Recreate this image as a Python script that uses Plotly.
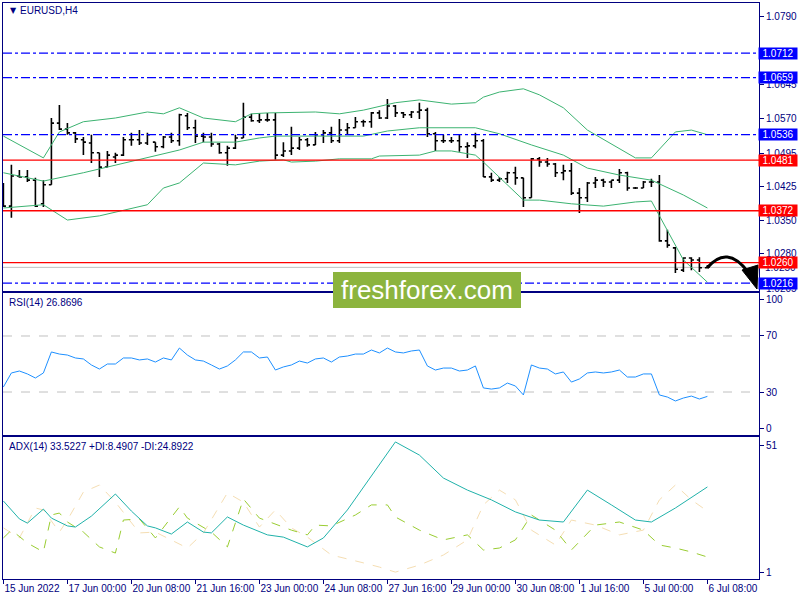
import plotly.graph_objects as go

# ---------------- data ----------------
bar_index = list(range(89))
tick_index = [0, 8, 16, 24, 32, 40, 48, 56, 64, 72, 80, 88]
tick_text = ["15 Jun 2022", "17 Jun 00:00", "20 Jun 08:00", "21 Jun 16:00", "23 Jun 00:00",
             "24 Jun 08:00", "27 Jun 16:00", "29 Jun 00:00", "30 Jun 08:00", "1 Jul 16:00",
             "5 Jul 00:00", "6 Jul 08:00"]

opens = [1.0417, 1.0382, 1.0447, 1.0445, 1.0438, 1.0387, 1.0428, 1.0561, 1.0548, 1.0540,
         1.0525, 1.0518, 1.0497, 1.0466, 1.0488, 1.0492, 1.0525, 1.0525, 1.0518, 1.0520,
         1.0510, 1.0531, 1.0523, 1.0577, 1.0551, 1.0533, 1.0531, 1.0516, 1.0497, 1.0507,
         1.0529, 1.0574, 1.0566, 1.0568, 1.0568, 1.0492, 1.0501, 1.0507, 1.0525, 1.0514,
         1.0536, 1.0540, 1.0523, 1.0546, 1.0551, 1.0564, 1.0564, 1.0583, 1.0572, 1.0598,
         1.0583, 1.0579, 1.0585, 1.0589, 1.0538, 1.0523, 1.0523, 1.0523, 1.0510, 1.0512,
         1.0523, 1.0445, 1.0438, 1.0441, 1.0454, 1.0443, 1.0400, 1.0484, 1.0477, 1.0473,
         1.0454, 1.0458, 1.0410, 1.0400, 1.0432, 1.0438, 1.0434, 1.0438, 1.0454, 1.0421,
         1.0421, 1.0434, 1.0434, 1.0307, 1.0292, 1.0244, 1.0270, 1.0266, 1.0249]
highs = [1.0432, 1.0471, 1.0460, 1.0460, 1.0443, 1.0438, 1.0572, 1.0600, 1.0561, 1.0542,
         1.0531, 1.0536, 1.0497, 1.0501, 1.0497, 1.0531, 1.0540, 1.0546, 1.0540, 1.0520,
         1.0533, 1.0540, 1.0581, 1.0583, 1.0568, 1.0540, 1.0540, 1.0518, 1.0512, 1.0536,
         1.0605, 1.0581, 1.0583, 1.0583, 1.0583, 1.0520, 1.0553, 1.0531, 1.0529, 1.0542,
         1.0546, 1.0553, 1.0570, 1.0561, 1.0574, 1.0568, 1.0585, 1.0589, 1.0613, 1.0600,
         1.0585, 1.0587, 1.0605, 1.0594, 1.0542, 1.0536, 1.0531, 1.0536, 1.0520, 1.0540,
         1.0527, 1.0454, 1.0445, 1.0456, 1.0467, 1.0443, 1.0486, 1.0488, 1.0486, 1.0475,
         1.0471, 1.0475, 1.0421, 1.0434, 1.0445, 1.0441, 1.0438, 1.0462, 1.0456, 1.0423,
         1.0436, 1.0441, 1.0449, 1.0331, 1.0294, 1.0272, 1.0272, 1.0272, 1.0255]
lows = [1.0380, 1.0357, 1.0443, 1.0434, 1.0380, 1.0380, 1.0428, 1.0546, 1.0536, 1.0518,
        1.0492, 1.0475, 1.0445, 1.0466, 1.0475, 1.0490, 1.0512, 1.0514, 1.0514, 1.0499,
        1.0507, 1.0518, 1.0512, 1.0546, 1.0518, 1.0520, 1.0510, 1.0495, 1.0469, 1.0505,
        1.0529, 1.0564, 1.0561, 1.0564, 1.0482, 1.0488, 1.0492, 1.0503, 1.0510, 1.0514,
        1.0518, 1.0518, 1.0518, 1.0536, 1.0551, 1.0553, 1.0551, 1.0570, 1.0570, 1.0574,
        1.0572, 1.0572, 1.0570, 1.0531, 1.0501, 1.0518, 1.0518, 1.0499, 1.0486, 1.0507,
        1.0445, 1.0434, 1.0434, 1.0432, 1.0428, 1.0380, 1.0400, 1.0467, 1.0467, 1.0445,
        1.0438, 1.0406, 1.0367, 1.0391, 1.0421, 1.0423, 1.0421, 1.0432, 1.0415, 1.0419,
        1.0421, 1.0423, 1.0305, 1.0292, 1.0238, 1.0240, 1.0244, 1.0240, 1.0249]
closes = [1.0382, 1.0447, 1.0445, 1.0438, 1.0382, 1.0428, 1.0561, 1.0548, 1.0540, 1.0527,
          1.0520, 1.0497, 1.0466, 1.0492, 1.0492, 1.0525, 1.0525, 1.0518, 1.0536, 1.0510,
          1.0531, 1.0523, 1.0579, 1.0551, 1.0533, 1.0531, 1.0516, 1.0497, 1.0507, 1.0529,
          1.0574, 1.0566, 1.0568, 1.0568, 1.0492, 1.0501, 1.0507, 1.0525, 1.0514, 1.0536,
          1.0540, 1.0523, 1.0546, 1.0551, 1.0564, 1.0564, 1.0583, 1.0572, 1.0598, 1.0583,
          1.0579, 1.0585, 1.0589, 1.0538, 1.0523, 1.0523, 1.0523, 1.0510, 1.0512, 1.0523,
          1.0445, 1.0438, 1.0441, 1.0454, 1.0443, 1.0400, 1.0484, 1.0477, 1.0473, 1.0454,
          1.0458, 1.0410, 1.0400, 1.0432, 1.0438, 1.0434, 1.0438, 1.0454, 1.0421, 1.0421,
          1.0434, 1.0434, 1.0307, 1.0298, 1.0246, 1.0270, 1.0266, 1.0249, 1.0251]

bb_upper_idx = [0, 5, 7, 10, 14, 18, 20, 22, 25, 29, 31, 33, 39, 42, 45, 49, 52, 56, 59, 60,
                62, 65, 67, 70, 73, 79, 81, 84, 86, 88]
bb_upper = [1.0533, 1.0486, 1.0542, 1.0564, 1.0572, 1.0585, 1.0581, 1.0594, 1.0572, 1.0564,
            1.0581, 1.0583, 1.0585, 1.0581, 1.0589, 1.0605, 1.0611, 1.0602, 1.0605, 1.0617,
            1.0628, 1.0635, 1.0622, 1.0594, 1.0546, 1.0486, 1.0486, 1.0542, 1.0546, 1.0536]
bb_mid_idx = [0, 5, 10, 13, 18, 22, 25, 29, 32, 34, 45, 48, 52, 59, 62, 66, 70, 73, 77, 81,
              85, 88]
bb_mid = [1.0454, 1.0436, 1.0454, 1.0466, 1.0486, 1.0503, 1.0520, 1.0520, 1.0529, 1.0533,
          1.0533, 1.0544, 1.0551, 1.0551, 1.0538, 1.0514, 1.0492, 1.0464, 1.0449, 1.0438,
          1.0406, 1.0378]
bb_lower_idx = [0, 5, 8, 12, 18, 20, 22, 25, 29, 32, 35, 36, 39, 42, 46, 47, 52, 54, 56, 59,
                60, 62, 65, 67, 71, 75, 79, 81, 83, 85, 88]
bb_lower = [1.0378, 1.0385, 1.0352, 1.0361, 1.0385, 1.0421, 1.0432, 1.0475, 1.0471, 1.0479,
            1.0482, 1.0477, 1.0479, 1.0484, 1.0484, 1.0490, 1.0492, 1.0501, 1.0501, 1.0492,
            1.0477, 1.0445, 1.0395, 1.0395, 1.0387, 1.0382, 1.0391, 1.0393, 1.0331, 1.0266,
            1.0218]

rsi = [33.6, 43.6, 45.0, 42.9, 40.0, 43.6, 58.6, 57.1, 56.4, 54.3, 53.6, 49.3, 46.4, 50.0,
       50.0, 54.3, 54.3, 52.9, 53.6, 51.4, 54.3, 52.9, 61.4, 56.4, 52.9, 52.1, 49.3, 46.4,
       48.6, 52.9, 58.6, 58.6, 54.3, 55.0, 45.7, 47.9, 49.3, 52.1, 50.7, 53.6, 54.3, 51.4,
       55.0, 55.7, 57.1, 57.1, 60.0, 57.9, 61.4, 58.6, 57.9, 59.3, 60.0, 48.6, 45.7, 47.1,
       47.1, 45.0, 45.7, 48.6, 32.9, 32.1, 32.9, 36.4, 34.3, 27.9, 49.3, 47.1, 46.4, 42.9,
       44.3, 37.1, 39.3, 43.6, 44.3, 43.6, 44.3, 45.7, 40.7, 40.7, 42.9, 42.9, 27.9, 26.4,
       23.6, 25.7, 27.1, 25.0, 26.87]
rsi_levels = [70, 30]

adx_idx = [0, 2, 3, 5, 6, 8, 9, 11, 14, 16, 18, 19, 21, 23, 25, 26, 28, 30, 33, 35, 38, 40,
           43, 49, 52, 55, 58, 61, 64, 67, 70, 73, 76, 79, 81, 84, 88]
adx = [28.5, 22.1, 20.6, 25.6, 22.4, 19.6, 19.2, 23.1, 31.0, 24.9, 19.6, 18.9, 16.7, 21.0,
       17.4, 17.1, 22.8, 19.9, 16.4, 15.6, 12.1, 15.3, 25.3, 49.6, 44.9, 36.7, 32.4, 28.9,
       24.6, 21.7, 21.0, 32.4, 27.1, 21.7, 21.0, 26.0, 33.52]
pdi_idx = [0, 1, 3, 5, 6, 7, 8, 10, 12, 14, 15, 17, 19, 22, 23, 26, 28, 30, 32, 34, 36, 38,
           39, 41, 44, 46, 48, 49, 52, 55, 58, 60, 62, 64, 66, 69, 71, 74, 77, 80, 82, 84, 86, 88]
pdi = [15.3, 18.1, 13.5, 10.3, 23.5, 24.2, 21.0, 17.4, 12.1, 9.9, 21.7, 22.1, 15.3, 26.4,
       22.4, 17.4, 12.1, 29.2, 22.4, 20.3, 18.1, 16.4, 19.9, 19.6, 23.5, 27.1, 27.1, 22.8,
       18.1, 14.6, 16.4, 11.0, 11.7, 14.6, 23.5, 18.1, 11.0, 19.9, 21.0, 18.1, 12.8, 11.7,
       10.3, 8.49]
mdi_idx = [0, 2, 4, 5, 7, 8, 10, 12, 14, 16, 17, 19, 21, 23, 25, 28, 30, 32, 34, 36, 38, 41,
           45, 47, 49, 52, 55, 58, 60, 62, 64, 66, 69, 71, 74, 77, 80, 82, 84, 86, 88]
mdi = [18.9, 15.3, 26.0, 25.3, 17.4, 21.7, 31.7, 34.2, 28.1, 21.0, 17.1, 17.4, 14.6, 11.7,
       17.1, 31.4, 28.1, 19.2, 25.3, 18.9, 15.6, 9.2, 6.4, 4.9, 3.1, 5.6, 9.2, 14.6, 27.1,
       32.4, 28.9, 18.1, 12.8, 21.7, 19.9, 16.4, 18.1, 28.9, 34.2, 28.9, 24.89]

blue_levels = [1.0712, 1.0659, 1.0536, 1.0216]
red_levels = [1.0481, 1.0372, 1.0260]
bid_price = 1.0250
price_ticks = [1.0790, 1.0645, 1.0570, 1.0495, 1.0425, 1.0350, 1.0280, 1.0205]
rsi_tick_text = ["100", "70", "30", "0"]
adx_tick_text = ["51", "1"]

# ---------------- styling ----------------
FONT = "Liberation Sans"
NAVY = "#000080"
W, H = 800, 600
L, R, T, B = 3, 41, 3, 21


def fx(p):  # pixel x -> paper
    return (p - L) / (W - L - R)


def fy(p):  # pixel y -> paper
    return (H - B - p) / (H - T - B)


fig = go.Figure()

fig.add_trace(go.Ohlc(x=bar_index, open=opens, high=highs, low=lows, close=closes,
                      increasing_line_color="black", decreasing_line_color="black",
                      line_width=1.6, tickwidth=0.32, xaxis="x", yaxis="y",
                      hoverinfo="skip", showlegend=False))
for xs, ys in [(bb_upper_idx, bb_upper), (bb_mid_idx, bb_mid), (bb_lower_idx, bb_lower)]:
    fig.add_trace(go.Scatter(x=xs, y=ys, mode="lines", line=dict(color="#3CB371", width=1),
                             xaxis="x", yaxis="y", showlegend=False, hoverinfo="skip"))

fig.add_trace(go.Scatter(x=bar_index, y=rsi, mode="lines", line=dict(color="#1E90FF", width=1),
                         xaxis="x2", yaxis="y2", showlegend=False, hoverinfo="skip"))

fig.add_trace(go.Scatter(x=mdi_idx, y=mdi, mode="lines",
                         line=dict(color="#F5DEB3", width=1, dash="dash"),
                         xaxis="x3", yaxis="y3", showlegend=False, hoverinfo="skip"))
fig.add_trace(go.Scatter(x=pdi_idx, y=pdi, mode="lines",
                         line=dict(color="#9ACD32", width=1, dash="dash"),
                         xaxis="x3", yaxis="y3", showlegend=False, hoverinfo="skip"))
fig.add_trace(go.Scatter(x=adx_idx, y=adx, mode="lines", line=dict(color="#20B2AA", width=1),
                         xaxis="x3", yaxis="y3", showlegend=False, hoverinfo="skip"))

xr = [-0.05, 94.45]
common_x = dict(range=xr, showgrid=False, zeroline=False, showline=True, mirror=True,
                linecolor=NAVY, linewidth=1)
common_y = dict(showgrid=False, zeroline=False, showline=True, mirror=True, linecolor=NAVY,
                linewidth=1, side="right", ticks="outside", ticklen=4, tickcolor=NAVY,
                tickfont=dict(family=FONT, size=10, color=NAVY))

shapes = []
for lv in blue_levels:
    shapes.append(dict(type="line", xref="paper", yref="y", x0=0, x1=1, y0=lv, y1=lv,
                       line=dict(color="#0000FF", width=1.3, dash="dashdot"), layer="above"))
shapes.append(dict(type="line", xref="paper", yref="y", x0=0, x1=1, y0=bid_price, y1=bid_price,
                   line=dict(color="#C0C0C0", width=1), layer="below"))
for lv in red_levels:
    shapes.append(dict(type="line", xref="paper", yref="y", x0=0, x1=1, y0=lv, y1=lv,
                       line=dict(color="#FF0000", width=1.3), layer="above"))
for lv in rsi_levels:
    shapes.append(dict(type="line", xref="paper", yref="y2", x0=0, x1=1, y0=lv, y1=lv,
                       line=dict(color="#C0C0C0", width=1, dash="dash"), layer="below"))

# logo box
shapes.append(dict(type="rect", xref="paper", yref="paper", x0=fx(333), x1=fx(521),
                   y0=fy(308), y1=fy(272), fillcolor="#8CB43E", line=dict(width=0), layer="above"))
# curved arrow
shapes.append(dict(type="path", xref="paper", yref="paper",
                   path=f"M {fx(707)},{fy(268)} Q {fx(727)},{fy(244)} {fx(748)},{fy(272)}",
                   line=dict(color="black", width=3), layer="above"))
shapes.append(dict(type="path", xref="paper", yref="paper",
                   path=f"M {fx(742)},{fy(270)} L {fx(758)},{fy(265)} L {fx(757)},{fy(289)} Z",
                   fillcolor="black", line=dict(color="black", width=1), layer="above"))

annotations = []
annotations.append(dict(xref="paper", yref="y", x=1, xanchor="left", xshift=4, y=bid_price,
                        text="1.0250", showarrow=False,
                        font=dict(family=FONT, size=10, color=NAVY)))
for lv, col in [(l, "#0000FF") for l in blue_levels] + [(l, "#FF0000") for l in red_levels]:
    annotations.append(dict(xref="paper", yref="y", x=1, xanchor="left", xshift=-1, y=lv,
                            text=f"{lv:.4f}", showarrow=False, bgcolor=col, width=38, height=11,
                            borderpad=0, font=dict(family=FONT, size=10, color="white")))
annotations += [
    dict(xref="paper", yref="paper", x=fx(8), y=fy(11), xanchor="left", yanchor="middle",
         text="▼", showarrow=False, font=dict(family="DejaVu Sans", size=8, color=NAVY)),
    dict(xref="paper", yref="paper", x=fx(18), y=fy(11), xanchor="left", yanchor="middle",
         text="EURUSD,H4", showarrow=False, font=dict(family=FONT, size=10, color=NAVY)),
    dict(xref="paper", yref="paper", x=fx(7), y=fy(302), xanchor="left", yanchor="middle",
         text="RSI(14) 26.8696", showarrow=False, font=dict(family=FONT, size=10, color=NAVY)),
    dict(xref="paper", yref="paper", x=fx(7), y=fy(446), xanchor="left", yanchor="middle",
         text="ADX(14) 33.5227 +DI:8.4907 -DI:24.8922", showarrow=False,
         font=dict(family=FONT, size=10, color=NAVY)),
    dict(xref="paper", yref="paper", x=fx(427), y=fy(290), xanchor="center", yanchor="middle",
         text="freshforex.com", showarrow=False,
         font=dict(family=FONT, size=26, color="white")),
]

fig.update_layout(
    width=W, height=H, margin=dict(l=L, r=R, t=T, b=B),
    paper_bgcolor="white", plot_bgcolor="white", showlegend=False,
    xaxis=dict(common_x, anchor="y", showticklabels=False, ticks="", rangeslider=dict(visible=False)),
    yaxis=dict(common_y, domain=[fy(291), 1], range=[1.0199, 1.0820], tickvals=price_ticks,
               tickformat=".4f"),
    xaxis2=dict(common_x, anchor="y2", showticklabels=False, ticks=""),
    # MT4 draws the extreme labels just inside the window
    yaxis2=dict(common_y, domain=[fy(435), fy(293)], range=[-0.7, 100.7],
                tickvals=[96.4, 70, 30, 4.3], ticktext=rsi_tick_text),
    xaxis3=dict(common_x, anchor="y3", tickvals=tick_index, ticktext=tick_text, tickangle=0,
                ticks="outside", ticklen=4, tickcolor=NAVY, ticklabelposition="outside right",
                tickfont=dict(family=FONT, size=10, color=NAVY)),
    yaxis3=dict(common_y, domain=[0, fy(437)], range=[0.64, 51.36],
                tickvals=[48.5, 2.8], ticktext=adx_tick_text),
    shapes=shapes, annotations=annotations,
)

fig.write_html("out.html", config={"displayModeBar": False},
               post_script="document.body.style.margin='0';document.body.style.padding='0';")
